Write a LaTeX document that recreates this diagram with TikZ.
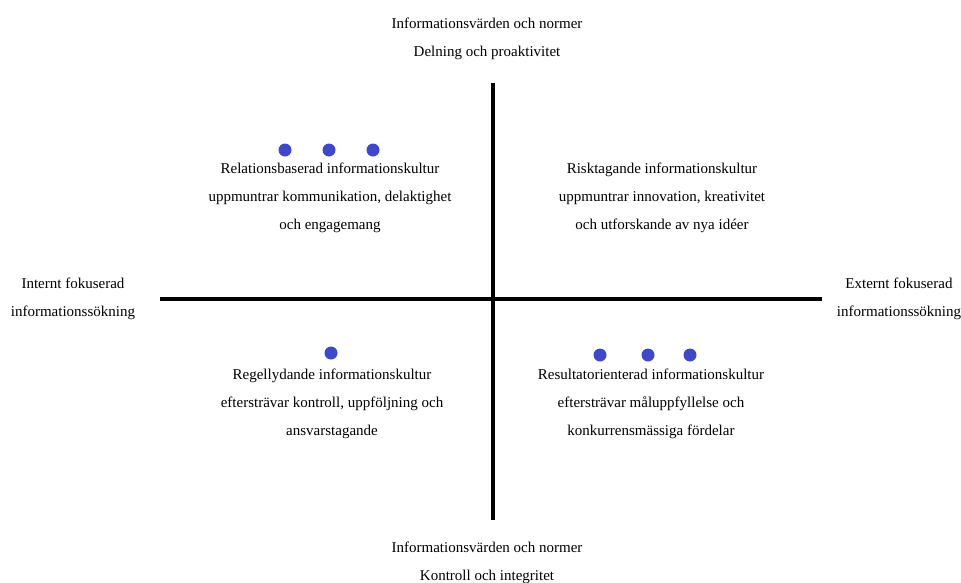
\documentclass[tikz,border=0pt]{standalone}
\usepackage{fontspec}
\setmainfont{Liberation Serif}
\usepackage{xcolor}
\usepackage{tikz}
\usetikzlibrary{calc, positioning}

\definecolor{dotblue}{RGB}{62,72,200}

\tikzset{
    axis/.style={line width=3.5pt},
    label/.style={align=center, inner sep=0pt, font=\fontsize{15}{28}\selectfont},
    dot/.style={circle, fill=dotblue, inner sep=0pt, minimum size=13pt}
}

\begin{document}
\begin{tikzpicture}[x=1pt, y=-1pt]
    \useasboundingbox (0,0) rectangle (961,582);

    % Axlar
    \coordinate (top) at (493,83);
    \coordinate (bot) at (493,520);
    \coordinate (lft) at (160,299);
    \coordinate (rgt) at (822,299);
    \draw[axis] (top) -- (bot);
    \draw[axis] (lft) -- (rgt);

    % Axeltexter
    \node[label] (dimtop) at (487,39) {Informationsvärden och normer\\Delning och proaktivitet};
    \node[label] (dimbot) at (487,563) {Informationsvärden och normer\\Kontroll och integritet};
    \node[label] (dimlft) at (73,299) {Internt fokuserad\\informationssökning};
    \node[label] (dimrgt) at (899,299) {Externt fokuserad\\informationssökning};

    % Kvadranter
    \node[label] (rel) at (330,198) {Relationsbaserad informationskultur\\uppmuntrar kommunikation, delaktighet\\och engagemang};
    \node[label] (risk) at (662,198) {Risktagande informationskultur\\uppmuntrar innovation, kreativitet\\och utforskande av nya idéer};
    \node[label] (regel) at (332,404) {Regellydande informationskultur\\eftersträvar kontroll, uppföljning och\\ansvarstagande};
    \node[label] (res) at (651,404) {Resultatorienterad informationskultur\\eftersträvar måluppfyllelse och\\konkurrensmässiga fördelar};

    % Punkter
    \foreach \x [count=\i] in {285,329,373} {
        \node[dot] (reldot\i) at (\x,150) {};
    }
    \node[dot] (regeldot1) at (331,353) {};
    \foreach \x [count=\i] in {600,648,690} {
        \node[dot] (resdot\i) at (\x,355) {};
    }
\end{tikzpicture}
\end{document}
